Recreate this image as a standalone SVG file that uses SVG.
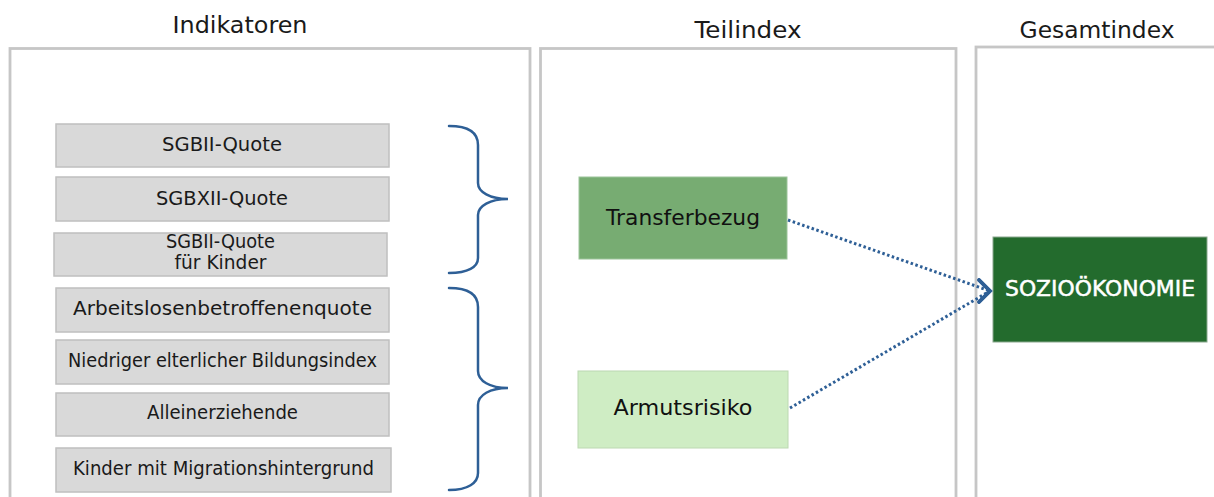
<svg xmlns="http://www.w3.org/2000/svg" width="1214" height="497" viewBox="0 0 1214 497">
<style>
  .panel { fill: #ffffff; stroke: #c6c6c6; stroke-width: 2.8; }
  .title { font-family: "DejaVu Sans", "Liberation Sans", sans-serif; font-size: 23px; fill: #1a1a1a; text-anchor: middle; }
  .ind rect { fill: #d9d9d9; stroke: #bfbfbf; stroke-width: 1.5; }
  .ind text { font-family: "DejaVu Sans", "Liberation Sans", sans-serif; font-size: 19px; fill: #1a1a1a; text-anchor: middle; }
  .brace { fill: none; stroke: #2e5f96; stroke-width: 2.5; stroke-linecap: round; }
  .sub text { font-family: "DejaVu Sans", "Liberation Sans", sans-serif; font-size: 21px; fill: #111111; text-anchor: middle; }
  .conn { fill: none; stroke: #2e5f96; stroke-width: 3; stroke-dasharray: 2.5 2.5; }
</style>
<defs>
  <marker id="chev" markerUnits="userSpaceOnUse" markerWidth="22" markerHeight="32" viewBox="-18 -16 22 32" refX="0" refY="0" orient="0">
    <polyline points="-11,-11 0,0 -11,11" fill="none" stroke="#2e5f96" stroke-width="3.6" stroke-linejoin="miter" stroke-linecap="round"/>
  </marker>
</defs>
<rect width="1214" height="497" fill="#ffffff"/>

<g id="panel-indikatoren">
  <rect class="panel" x="10" y="48.5" width="520" height="470"/>
  <text class="title" x="240" y="33" textLength="135" lengthAdjust="spacingAndGlyphs">Indikatoren</text>
</g>
<g id="panel-teilindex">
  <rect class="panel" x="540.5" y="48.5" width="415.5" height="470"/>
  <text class="title" x="748" y="38" textLength="107" lengthAdjust="spacingAndGlyphs">Teilindex</text>
</g>
<g id="panel-gesamtindex">
  <rect class="panel" x="976" y="47" width="260" height="470"/>
  <text class="title" x="1097" y="38" textLength="155" lengthAdjust="spacingAndGlyphs">Gesamtindex</text>
</g>

<g id="ind-sgbii" class="ind">
  <rect x="56" y="124" width="333" height="43"/>
  <text x="222" y="151" textLength="120" lengthAdjust="spacingAndGlyphs">SGBII-Quote</text>
</g>
<g id="ind-sgbxii" class="ind">
  <rect x="56" y="177" width="333" height="44"/>
  <text x="222" y="205" textLength="132" lengthAdjust="spacingAndGlyphs">SGBXII-Quote</text>
</g>
<g id="ind-sgbii-kinder" class="ind">
  <rect x="54" y="233" width="333" height="43"/>
  <text x="220.5" y="248" font-size="17" textLength="109" lengthAdjust="spacingAndGlyphs">SGBII-Quote</text>
  <text x="220.5" y="269" font-size="17" textLength="92" lengthAdjust="spacingAndGlyphs">für Kinder</text>
</g>
<g id="ind-arbeitslosen" class="ind">
  <rect x="56" y="288" width="333" height="44"/>
  <text x="222.5" y="315" textLength="299" lengthAdjust="spacingAndGlyphs">Arbeitslosenbetroffenenquote</text>
</g>
<g id="ind-bildung" class="ind">
  <rect x="56" y="340" width="333" height="44"/>
  <text x="222.5" y="367" textLength="309" lengthAdjust="spacingAndGlyphs">Niedriger elterlicher Bildungsindex</text>
</g>
<g id="ind-allein" class="ind">
  <rect x="56" y="393" width="333" height="43"/>
  <text x="222.5" y="419" textLength="151" lengthAdjust="spacingAndGlyphs">Alleinerziehende</text>
</g>
<g id="ind-migration" class="ind">
  <rect x="56" y="448" width="335" height="44"/>
  <text x="223.5" y="475" textLength="301" lengthAdjust="spacingAndGlyphs">Kinder mit Migrationshintergrund</text>
</g>

<g id="braces">
  <path class="brace" d="M449,126 C468,126 478,132 478,145 L478,183 C478,192 490,199 508,199 C490,199 478,206 478,215 L478,258 C478,267 468,273 449,273"/>
  <path class="brace" d="M449,288 C468,288 478,294 478,307 L478,371 C478,381 490,388 508,388 C490,388 478,395 478,405 L478,473 C478,483 468,490 449,490"/>
</g>

<g id="node-transferbezug" class="sub">
  <rect x="579" y="177" width="208" height="82" fill="#77ac72" stroke="#9cc49a" stroke-width="1"/>
  <text x="683" y="225" textLength="154" lengthAdjust="spacingAndGlyphs">Transferbezug</text>
</g>
<g id="node-armutsrisiko" class="sub">
  <rect x="578" y="371" width="210" height="77" fill="#cfedc4" stroke="#bcd8b2" stroke-width="1"/>
  <text x="683" y="415" textLength="139" lengthAdjust="spacingAndGlyphs">Armutsrisiko</text>
</g>
<g id="node-soziooekonomie">
  <rect x="993" y="237" width="214" height="105" fill="#236b2d" stroke="#8aa88e" stroke-width="1"/>
  <text x="1100" y="296" font-family="DejaVu Sans, Liberation Sans, sans-serif" font-size="21" fill="#ffffff" stroke="#ffffff" stroke-width="0.5" text-anchor="middle" textLength="190" lengthAdjust="spacingAndGlyphs">SOZIOÖKONOMIE</text>
</g>

<g id="connectors">
  <path class="conn" d="M788,220 L990,291" marker-end="url(#chev)"/>
  <path class="conn" d="M790,408 L990,291" marker-end="url(#chev)"/>
</g>
</svg>
